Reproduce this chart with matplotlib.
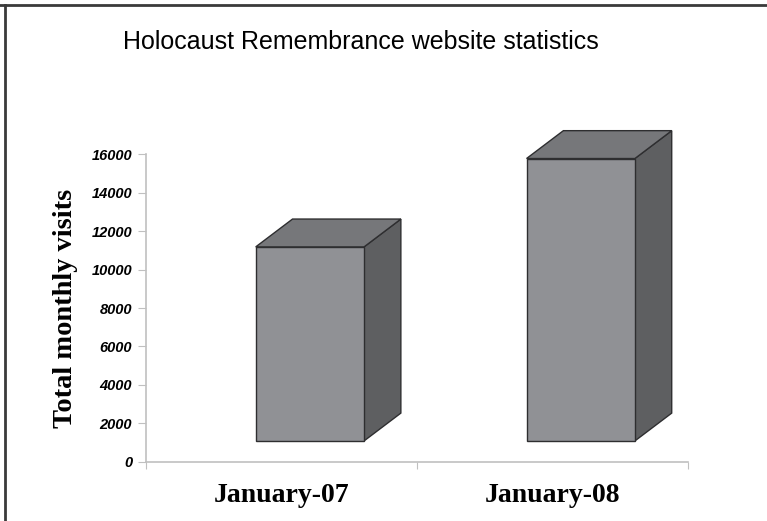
import matplotlib
matplotlib.use("Agg")
import matplotlib.pyplot as plt
from matplotlib.patches import Polygon
from matplotlib.lines import Line2D

months = ['January-07', 'January-08']
visits = [10100, 14700]  # front-face height of each column
yticks = [0, 2000, 4000, 6000, 8000, 10000, 12000, 14000, 16000]

# pseudo-3D look
floor = 1080      # front face starts a bit above zero (projection)
depth_x = 0.136   # depth offset, x units
depth_y = 1450    # depth offset, y units
bar_w = 0.40
shift = -0.095    # front face left edge relative to category centre
front_c, top_c, side_c, edge_c = '#909195', '#76777a', '#5e5f61', '#2e2e30'

fig = plt.figure(figsize=(7.67, 5.21), dpi=100)
ax = fig.add_axes([146/767, 1-461.7/521, 541.7/767, 307.4/521])

for i, v in enumerate(visits):
    x0 = i + 0.5 + shift
    x1 = x0 + bar_w
    y0, y1 = floor, floor + v
    front = [(x0, y0), (x1, y0), (x1, y1), (x0, y1)]
    top = [(x0, y1), (x1, y1), (x1 + depth_x, y1 + depth_y), (x0 + depth_x, y1 + depth_y)]
    side = [(x1, y0), (x1 + depth_x, y0 + depth_y), (x1 + depth_x, y1 + depth_y), (x1, y1)]
    for pts, c in [(side, side_c), (top, top_c), (front, front_c)]:
        ax.add_patch(Polygon(pts, closed=True, facecolor=c, edgecolor=edge_c,
                             linewidth=1.0, joinstyle='miter', clip_on=False, zorder=3))

ax.set_xlim(0, 2)
ax.set_ylim(0, 16000)
ax.set_yticks(yticks)
ax.set_yticklabels([str(t) for t in yticks], fontfamily='Liberation Sans',
                   fontweight='bold', fontstyle='italic', fontsize=10.5)
ax.set_xticks([0, 1, 2])
ax.set_xticklabels([])
ax.set_xticks([0.5, 1.5], minor=True)
ax.set_xticklabels(months, minor=True, fontfamily='Liberation Serif',
                   fontweight='bold', fontsize=20)
ax.tick_params(axis='x', which='minor', length=0, pad=15)
ax.tick_params(axis='x', which='major', length=5, color='#c0c0c0')
ax.tick_params(axis='y', length=6, color='#c0c0c0', pad=4)

for s in ['top', 'right']:
    ax.spines[s].set_visible(False)
for s in ['left', 'bottom']:
    ax.spines[s].set_color('#c0c0c0')
    ax.spines[s].set_linewidth(1.2)

ax.set_ylabel('Total monthly visits', fontfamily='Liberation Serif',
              fontweight='bold', fontsize=20.5, labelpad=10)

fig.text(361/767, 1-42/521, 'Holocaust Remembrance website statistics',
         ha='center', va='center', fontfamily='Liberation Sans', fontsize=18)

# frame lines along top and left edge
fig.add_artist(Line2D([0, 1], [1-5/521, 1-5/521], color='#3a3a3a', linewidth=2))
fig.add_artist(Line2D([5/767, 5/767], [0, 1-5/521], color='#3a3a3a', linewidth=2))

fig.savefig('out.png', dpi=100)
